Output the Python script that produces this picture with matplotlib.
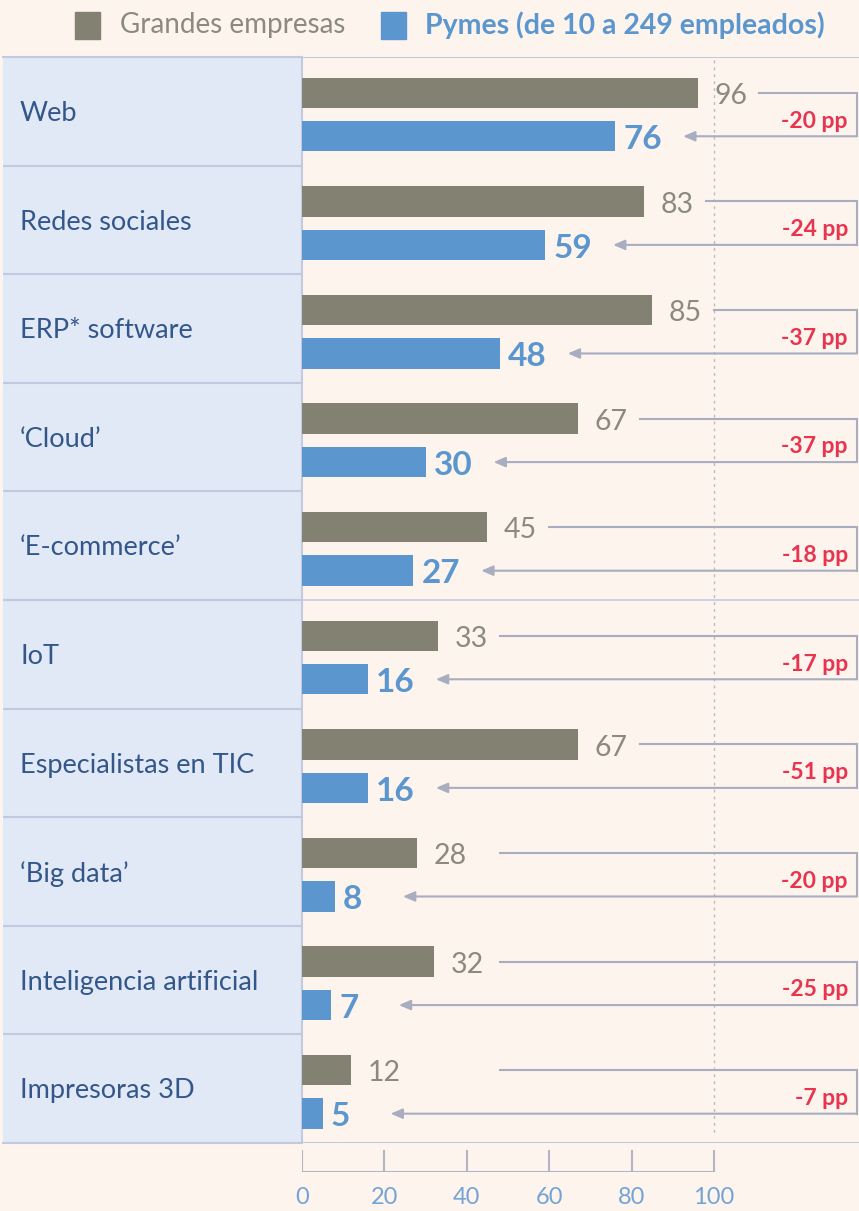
import matplotlib
matplotlib.use("Agg")
import matplotlib.pyplot as plt
from matplotlib.patches import Rectangle

plt.rcParams['font.family'] = ['Lato', 'DejaVu Sans']

categories = ['Web', 'Redes sociales', 'ERP* software', '‘Cloud’', '‘E-commerce’',
              'IoT', 'Especialistas en TIC', '‘Big data’', 'Inteligencia artificial',
              'Impresoras 3D']
grandes = [96, 83, 85, 67, 45, 33, 67, 28, 32, 12]
pymes = [76, 59, 48, 30, 27, 16, 16, 8, 7, 5]
ticks = [0, 20, 40, 60, 80, 100]
legend_labels = ['Grandes empresas', 'Pymes (de 10 a 249 empleados)']

BG = '#fdf4ee'
PANEL = '#e2e9f6'
PANEL_EDGE = '#c3c9de'
GRAY = '#838172'
BLUE = '#5b96cf'
GRAY_TXT = '#8c8a80'
LABEL_TXT = '#33578a'
RED = '#e8344e'
LINE = '#a9adc0'
TICK_TXT = '#74a3d6'

W, H = 859, 1211
fig = plt.figure(figsize=(W / 100, H / 100), dpi=100)
fig.patch.set_facecolor(BG)

def fx(px):
    return px / W

def fy(py):
    return 1 - py / H

top_px, bot_px = 57, 1143
x0_px, px_per_unit = 302, 4.12
xmax = (W - x0_px) / px_per_unit
n = len(categories)

# label panel
axl = fig.add_axes([fx(3), fy(bot_px), fx(x0_px - 3), (bot_px - top_px) / H])
axl.set_xlim(0, 1)
axl.set_ylim(n, 0)
axl.set_facecolor(PANEL)
for s in axl.spines.values():
    s.set_color(PANEL_EDGE)
    s.set_linewidth(1.5)
axl.spines['left'].set_visible(False)
axl.set_xticks([])
axl.set_yticks([])
for i in range(1, n):
    axl.axhline(i, color=PANEL_EDGE, lw=1.5)
for i, c in enumerate(categories):
    axl.text(0.057, i + 0.52, c, ha='left', va='center', fontsize=19.5, color=LABEL_TXT)

# main axes
ax = fig.add_axes([fx(x0_px), fy(bot_px), 1 - fx(x0_px), (bot_px - top_px) / H])
ax.set_xlim(0, xmax)
ax.set_ylim(n, 0)
ax.set_facecolor('none')
for s in ax.spines.values():
    s.set_visible(False)
ax.set_xticks([])
ax.set_yticks([])
ax.axhline(0, color=PANEL_EDGE, lw=1.5)
ax.axhline(n, color=PANEL_EDGE, lw=1.5)
ax.axhline(5, color=PANEL_EDGE, lw=1.2)
ax.plot([100, 100], [0.03, n - 0.07], color='#b9b9c2', lw=1, ls=(0, (2, 3)), zorder=0)

g_off, p_off, bh = 0.5 - 0.17, 0.5 + 0.23, 0.28
yg = [i + g_off for i in range(n)]
yp = [i + p_off for i in range(n)]
ax.barh(yg, grandes, height=bh, color=GRAY, zorder=2)
ax.barh(yp, pymes, height=bh, color=BLUE, zorder=2)

xr = (857 - x0_px) / px_per_unit
for i in range(n):
    g, p = grandes[i], pymes[i]
    ax.text(g + 4.0, yg[i] + 0.03, f'{g}', ha='left', va='center', fontsize=20.5,
            color=GRAY_TXT, zorder=3)
    ax.text(p + 2.0, yp[i] + 0.03, f'{p}', ha='left', va='center', fontsize=24,
            color=BLUE, fontweight='bold', zorder=3)
    start = max(g + 15, 48)
    tip = p + 16.5
    ax.plot([start, xr, xr], [yg[i], yg[i], yp[i]], color=LINE, lw=1.5, zorder=1,
            solid_joinstyle='miter')
    ax.annotate('', xy=(tip, yp[i]), xytext=(xr, yp[i]),
                arrowprops=dict(arrowstyle='-|>,head_length=0.7,head_width=0.3',
                                color=LINE, lw=1.5, shrinkA=0, shrinkB=0), zorder=1)
    ax.text(132.5, i + 0.59, f'-{g - p} pp', ha='right', va='center', fontsize=16.5,
            color=RED, fontweight='bold', zorder=3)

# bottom scale
axt = fig.add_axes([fx(x0_px), fy(1172), 1 - fx(x0_px), (1172 - 1150) / H])
axt.set_xlim(0, xmax)
axt.set_ylim(0, 1)
axt.set_facecolor('none')
for s in axt.spines.values():
    s.set_visible(False)
axt.set_yticks([])
axt.set_xticks(ticks)
axt.set_xticklabels([str(t) for t in ticks])
axt.tick_params(axis='x', length=0, pad=11, labelsize=17, labelcolor=TICK_TXT)
axt.vlines(ticks, 0, 1, color='#b5b3c6', lw=1.5)
axt.plot([0, 100], [0, 0], color='#b5b3c6', lw=1.5)

# legend
fig.patches.append(Rectangle((fx(75), fy(39)), fx(25), 27 / H, transform=fig.transFigure,
                             color=GRAY))
fig.text(fx(120), fy(25), legend_labels[0], ha='left', va='center', fontsize=20,
         color=GRAY_TXT)
fig.patches.append(Rectangle((fx(381), fy(39)), fx(25), 27 / H, transform=fig.transFigure,
                             color=BLUE))
fig.text(fx(425), fy(25), legend_labels[1], ha='left', va='center', fontsize=20.5,
         color=BLUE, fontweight='bold')

fig.savefig('out.png', dpi=100, facecolor=BG)
